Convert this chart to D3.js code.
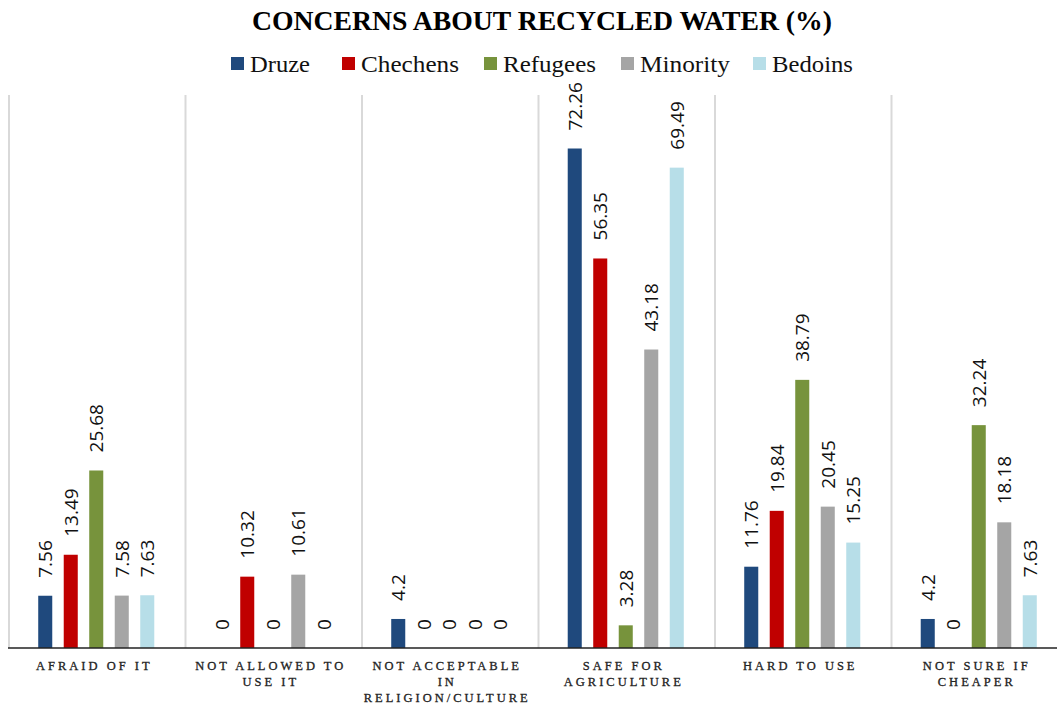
<!DOCTYPE html>
<html>
<head>
<meta charset="utf-8">
<script src="https://cdn.jsdelivr.net/npm/d3@7"></script>
<style>
  body { margin: 0; background: #fff; }
</style>
</head>
<body>
<div id="chart"></div>
<script>
// data
var categories = ["AFRAID OF IT", "NOT ALLOWED TO\nUSE IT", "NOT ACCEPTABLE\nIN\nRELIGION/CULTURE",
                  "SAFE FOR\nAGRICULTURE", "HARD TO USE", "NOT SURE IF\nCHEAPER"];
var seriesNames = ["Druze", "Chechens", "Refugees", "Minority", "Bedoins"];
var seriesColors = ["#1f497d", "#c00000", "#77933c", "#a5a5a5", "#b7dee8"];
var druze    = [7.56, 0, 4.2, 72.26, 11.76, 4.2];
var chechens = [13.49, 10.32, 0, 56.35, 19.84, 0];
var refugees = [25.68, 0, 0, 3.28, 38.79, 32.24];
var minority = [7.58, 10.61, 0, 43.18, 20.45, 18.18];
var bedoins  = [7.63, 0, 0, 69.49, 15.25, 7.63];
var seriesValues = [druze, chechens, refugees, minority, bedoins];

var W = 1057, H = 707;
var margin = {top: 95, right: -10, bottom: 59, left: 8},
    width = W - margin.left - margin.right,
    height = H - margin.top - margin.bottom;

var svg = d3.select("#chart").append("svg")
    .attr("width", W)
    .attr("height", H);

// title
svg.append("text")
    .attr("x", 542)
    .attr("y", 30)
    .attr("text-anchor", "middle")
    .style("font-family", "'Liberation Serif', 'DejaVu Serif', serif")
    .style("font-weight", "bold")
    .style("font-size", "28px")
    .attr("textLength", 580)
    .attr("lengthAdjust", "spacingAndGlyphs")
    .text("CONCERNS ABOUT RECYCLED WATER (%)");

// legend
var legendX = [231, 342, 484, 621, 753];
var legendW = [60, 98, 93, 90, 81];
var legend = svg.selectAll(".legend")
  .data(seriesNames)
  .enter().append("g")
    .attr("class", "legend")
    .attr("transform", function(d, i) { return "translate(" + legendX[i] + ",0)"; });
legend.append("rect")
    .attr("x", 0).attr("y", 57)
    .attr("width", 13).attr("height", 13)
    .style("fill", function(d, i) { return seriesColors[i]; });
legend.append("text")
    .attr("x", 19)
    .attr("y", 72)
    .style("font-family", "'Liberation Serif', 'DejaVu Serif', serif")
    .style("font-size", "22.5px")
    .style("fill", "#111")
    .attr("textLength", function(d, i) { return legendW[i]; })
    .attr("lengthAdjust", "spacingAndGlyphs")
    .text(function(d) { return d; });

var g = svg.append("g")
    .attr("transform", "translate(" + margin.left + "," + margin.top + ")");

var x0 = d3.scaleBand()
    .domain(categories)
    .range([0, 6 * 176.5])
    .padding(0);

var x1 = d3.scaleBand()
    .domain(seriesNames)
    .range([0, x0.bandwidth()])
    .paddingInner(0.45)
    .paddingOuter(1.185);

var y = d3.scaleLinear()
    .domain([0, 80])
    .range([height, 0]);

// vertical separators between categories
g.selectAll(".sep")
  .data(categories)
  .enter().append("line")
    .attr("class", "sep")
    .attr("x1", function(d) { return x0(d) + 1; })
    .attr("x2", function(d) { return x0(d) + 1; })
    .attr("y1", 0)
    .attr("y2", height)
    .style("stroke", "#d9d9d9")
    .style("stroke-width", 2);

// bars
var groups = g.selectAll(".cat")
  .data(categories)
  .enter().append("g")
    .attr("class", "cat")
    .attr("transform", function(d) { return "translate(" + x0(d) + ",0)"; });

var cells = groups.selectAll(".bar")
  .data(function(d, ci) {
    return seriesNames.map(function(s, si) {
      return {series: s, si: si, value: seriesValues[si][ci]};
    });
  })
  .enter();

cells.append("rect")
    .attr("class", "bar")
    .attr("x", function(d) { return x1(d.series); })
    .attr("y", function(d) { return y(d.value); })
    .attr("width", x1.bandwidth())
    .attr("height", function(d) { return height - y(d.value); })
    .style("fill", function(d) { return seriesColors[d.si]; });

cells.append("text")
    .attr("transform", function(d) {
      return "translate(" + (x1(d.series) + x1.bandwidth() / 2) + "," + (y(d.value) - 18) + ") rotate(-90)";
    })
    .attr("dy", "0.36em")
    .style("font-family", "'Open Sans', 'Noto Sans', sans-serif")
    .style("font-size", "19px")
    .style("fill", "#111")
    .text(function(d) { return d.value; });

// x axis
var xAxis = g.append("g")
    .attr("transform", "translate(0," + height + ")")
    .call(d3.axisBottom(x0).tickSize(0).tickFormat(""));
xAxis.select(".domain")
    .attr("d", "M0,0H" + (W))
    .style("stroke", "#222")
    .style("stroke-width", 1.5);

xAxis.selectAll(".tick text").remove();
xAxis.selectAll(".tick").append("text")
    .style("font-family", "'Liberation Serif', 'DejaVu Serif', serif")
    .style("font-size", "12.5px")
    .style("letter-spacing", "3px")
    .style("fill", "#222")
    .style("stroke", "#222")
    .style("stroke-width", 0.3)
    .attr("text-anchor", "middle")
    .each(function(d) {
      var lines = d.split("\n");
      var t = d3.select(this);
      lines.forEach(function(line, i) {
        t.append("tspan")
          .attr("x", -2)
          .attr("y", 22 + i * 16)
          .text(line);
      });
    });
</script>
</body>
</html>
